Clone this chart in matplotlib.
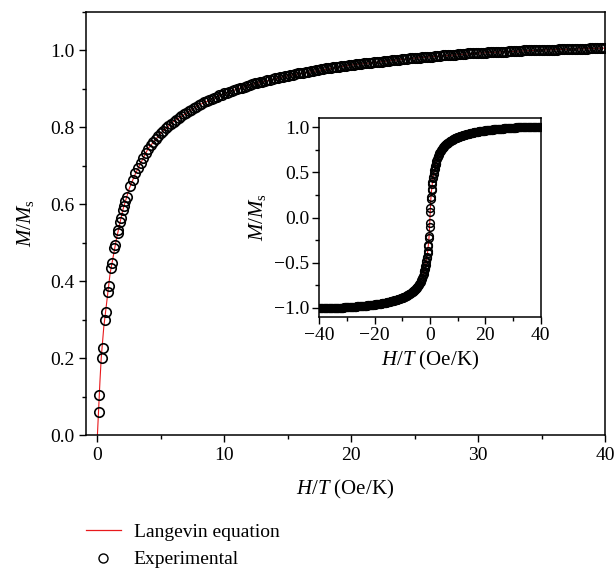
import matplotlib
matplotlib.use("Agg")
import matplotlib.pyplot as plt
import numpy as np
from matplotlib.lines import Line2D
from matplotlib.ticker import MultipleLocator

plt.rcParams['font.family'] = ['Liberation Serif', 'DejaVu Serif']
plt.rcParams['mathtext.fontset'] = 'custom'
plt.rcParams['mathtext.rm'] = 'Liberation Serif'
plt.rcParams['mathtext.it'] = 'Liberation Serif:italic'

# experimental points, first sweep (H/T in Oe/K, M/Ms)
h_exp = [0.10, 0.13, 0.37, 0.45, 0.58, 0.68, 0.84, 0.89, 1.10, 1.16,
         1.34, 1.40, 1.60, 1.66, 1.79, 1.86, 2.00, 2.08, 2.20, 2.30,
         2.6, 3.0, 3.4, 3.8, 4.2, 4.6, 5.0, 5.4, 5.8, 6.2,
         6.6, 7.0, 7.4, 7.8, 8.2, 8.6, 9.0, 9.4, 9.8, 10.2,
         10.6, 11.0, 11.4, 11.8, 12.2, 12.6, 13.0, 13.4, 13.8, 14.2,
         14.6, 15.0, 15.4, 15.8, 16.2, 16.6, 17.0, 17.4, 17.8, 18.2,
         18.6, 19.0, 19.4, 19.8, 20.2, 20.6, 21.0, 21.4, 21.8, 22.2,
         22.6, 23.0, 23.4, 23.8, 24.2, 24.6, 25.0, 25.4, 25.8, 26.2,
         26.6, 27.0, 27.4, 27.8, 28.2, 28.6, 29.0, 29.4, 29.8, 30.2,
         30.6, 31.0, 31.4, 31.8, 32.2, 32.6, 33.0, 33.4, 33.8, 34.2,
         34.6, 35.0, 35.4, 35.8, 36.2, 36.6, 37.0, 37.4, 37.8, 38.2,
         38.6, 39.0, 39.4, 39.8, 40.0]
m_exp = [0.061, 0.104, 0.200, 0.227, 0.300, 0.320, 0.373, 0.388, 0.434, 0.447,
         0.485, 0.495, 0.525, 0.534, 0.555, 0.565, 0.586, 0.596, 0.608, 0.620,
         0.648, 0.680, 0.708, 0.733, 0.753, 0.770, 0.785, 0.797, 0.809, 0.820,
         0.829, 0.838, 0.846, 0.854, 0.861, 0.868, 0.874, 0.880, 0.885, 0.890,
         0.895, 0.899, 0.903, 0.908, 0.912, 0.915, 0.919, 0.922, 0.925, 0.928,
         0.931, 0.934, 0.937, 0.940, 0.942, 0.944, 0.947, 0.949, 0.952, 0.954,
         0.956, 0.958, 0.959, 0.961, 0.963, 0.964, 0.966, 0.967, 0.969, 0.970,
         0.972, 0.973, 0.975, 0.976, 0.977, 0.979, 0.980, 0.981, 0.982, 0.983,
         0.985, 0.986, 0.987, 0.988, 0.989, 0.990, 0.991, 0.992, 0.993, 0.993,
         0.994, 0.995, 0.996, 0.996, 0.997, 0.998, 0.998, 0.999, 1.000, 1.000,
         1.001, 1.001, 1.002, 1.002, 1.002, 1.003, 1.003, 1.003, 1.004, 1.004,
         1.004, 1.005, 1.005, 1.005, 1.006]

# experimental points, second sweep (interleaved fields)
h_exp2 = [2.8, 3.2, 3.6, 4.0, 4.4, 4.8, 5.2, 5.6, 6.0, 6.4,
          6.8, 7.2, 7.6, 8.0, 8.4, 8.8, 9.2, 9.6, 10.0, 10.4,
          10.8, 11.2, 11.6, 12.0, 12.4, 12.8, 13.2, 13.6, 14.0, 14.4,
          14.8, 15.2, 15.6, 16.0, 16.4, 16.8, 17.2, 17.6, 18.0, 18.4,
          18.8, 19.2, 19.6, 20.0, 20.4, 20.8, 21.2, 21.6, 22.0, 22.4,
          22.8, 23.2, 23.6, 24.0, 24.4, 24.8, 25.2, 25.6, 26.0, 26.4,
          26.8, 27.2, 27.6, 28.0, 28.4, 28.8, 29.2, 29.6, 30.0, 30.4,
          30.8, 31.2, 31.6, 32.0, 32.4, 32.8, 33.2, 33.6, 34.0, 34.4,
          34.8, 35.2, 35.6, 36.0, 36.4, 36.8, 37.2, 37.6, 38.0, 38.4,
          38.8, 39.2, 39.6]
m_exp2 = [0.664, 0.694, 0.721, 0.743, 0.762, 0.778, 0.791, 0.803, 0.815, 0.825,
          0.834, 0.842, 0.850, 0.858, 0.865, 0.871, 0.877, 0.883, 0.888, 0.893,
          0.897, 0.901, 0.906, 0.910, 0.914, 0.917, 0.921, 0.924, 0.927, 0.930,
          0.933, 0.936, 0.939, 0.941, 0.943, 0.946, 0.948, 0.951, 0.953, 0.955,
          0.957, 0.959, 0.960, 0.962, 0.964, 0.965, 0.967, 0.968, 0.970, 0.971,
          0.973, 0.974, 0.976, 0.977, 0.978, 0.980, 0.981, 0.982, 0.983, 0.984,
          0.986, 0.987, 0.988, 0.989, 0.990, 0.991, 0.992, 0.993, 0.993, 0.994,
          0.995, 0.996, 0.996, 0.997, 0.998, 0.998, 0.999, 1.000, 1.000, 1.001,
          1.001, 1.002, 1.002, 1.002, 1.003, 1.003, 1.003, 1.004, 1.004, 1.004,
          1.005, 1.005, 1.005]

# Langevin fit curve
h_fit = [0.0, 0.1, 0.2, 0.3, 0.5, 0.75, 1.0, 1.5, 2.0, 2.5, 3.0, 4.0, 5.0,
         6.0, 8.0, 10.0, 12.0, 15.0, 20.0, 25.0, 30.0, 35.0, 40.0]
m_fit = [0.0, 0.07, 0.14, 0.20, 0.28, 0.35, 0.42, 0.51, 0.585, 0.64, 0.68,
         0.745, 0.785, 0.815, 0.858, 0.888, 0.91, 0.934, 0.962, 0.980, 0.993,
         1.001, 1.006]

h_pos = np.concatenate([h_exp, h_exp2])
m_pos = np.concatenate([m_exp, m_exp2])
h_fit = np.array(h_fit)
m_fit = np.array(m_fit)
# inset shows both field directions (symmetric loop)
h_all = np.concatenate([-h_pos, h_pos])
m_all = np.concatenate([-m_pos, m_pos])
h_fit_all = np.concatenate([-h_fit[::-1], h_fit])
m_fit_all = np.concatenate([-m_fit[::-1], m_fit])

red = '#e8191c'
fig = plt.figure(figsize=(6.16, 5.69), dpi=100)
ax = fig.add_axes([0.1396, 0.2355, 0.8425, 0.7435])

mk = dict(ls='none', marker='o', ms=6.8, mfc='none', mec='black', mew=1.2, zorder=2)
ax.plot(h_fit, m_fit, color=red, lw=0.8, zorder=1)
ax.plot(h_pos, m_pos, **mk)

ax.set_xlim(-0.9, 40)
ax.set_ylim(0, 1.1)
ax.xaxis.set_major_locator(MultipleLocator(10))
ax.xaxis.set_minor_locator(MultipleLocator(5))
ax.yaxis.set_major_locator(MultipleLocator(0.2))
ax.yaxis.set_minor_locator(MultipleLocator(0.1))
ax.yaxis.set_major_formatter(plt.FuncFormatter(lambda v, p: f'{v:.1f}'))
ax.set_xlabel(r'$H/T$ (Oe/K)', fontsize=15, labelpad=10)
ax.set_ylabel(r'$M/M_{\mathrm{s}}$', fontsize=15, labelpad=10)

# inset
axi = fig.add_axes([0.518, 0.4429, 0.360, 0.3497])
axi.plot(h_fit_all, m_fit_all, color=red, lw=0.8, zorder=1)
axi.plot(h_all, m_all, ls='none', marker='o', ms=5.5, mfc='none', mec='black', mew=1.1, zorder=2)
axi.set_xlim(-40, 40)
axi.set_ylim(-1.1, 1.1)
axi.xaxis.set_major_locator(MultipleLocator(20))
axi.xaxis.set_minor_locator(MultipleLocator(10))
axi.yaxis.set_major_locator(MultipleLocator(0.5))
axi.yaxis.set_minor_locator(MultipleLocator(0.25))
axi.yaxis.set_major_formatter(plt.FuncFormatter(lambda v, p: f'{v:.1f}'.replace('-', '\u2212')))
axi.set_xlabel(r'$H/T$ (Oe/K)', fontsize=15, labelpad=4)
axi.set_ylabel(r'$M/M_{\mathrm{s}}$', fontsize=15, labelpad=4)

for a in (ax, axi):
    a.tick_params(which='major', direction='out', length=5, width=1.0, labelsize=14)
    a.tick_params(which='minor', direction='out', length=3, width=1.0)
    for s in a.spines.values():
        s.set_linewidth(1.1)
axi.tick_params(which='major', pad=2)

handles = [Line2D([], [], color=red, lw=0.9),
           Line2D([], [], ls='none', marker='o', ms=6.5, mfc='none', mec='black', mew=1.0)]
fig.legend(handles, ['Langevin equation', 'Experimental'], loc='upper left',
           bbox_to_anchor=(0.1396, 0.08), frameon=False, fontsize=14,
           borderpad=0, borderaxespad=0, handlelength=1.8, handletextpad=0.65,
           labelspacing=0.5)

fig.savefig('out.png', dpi=100)
